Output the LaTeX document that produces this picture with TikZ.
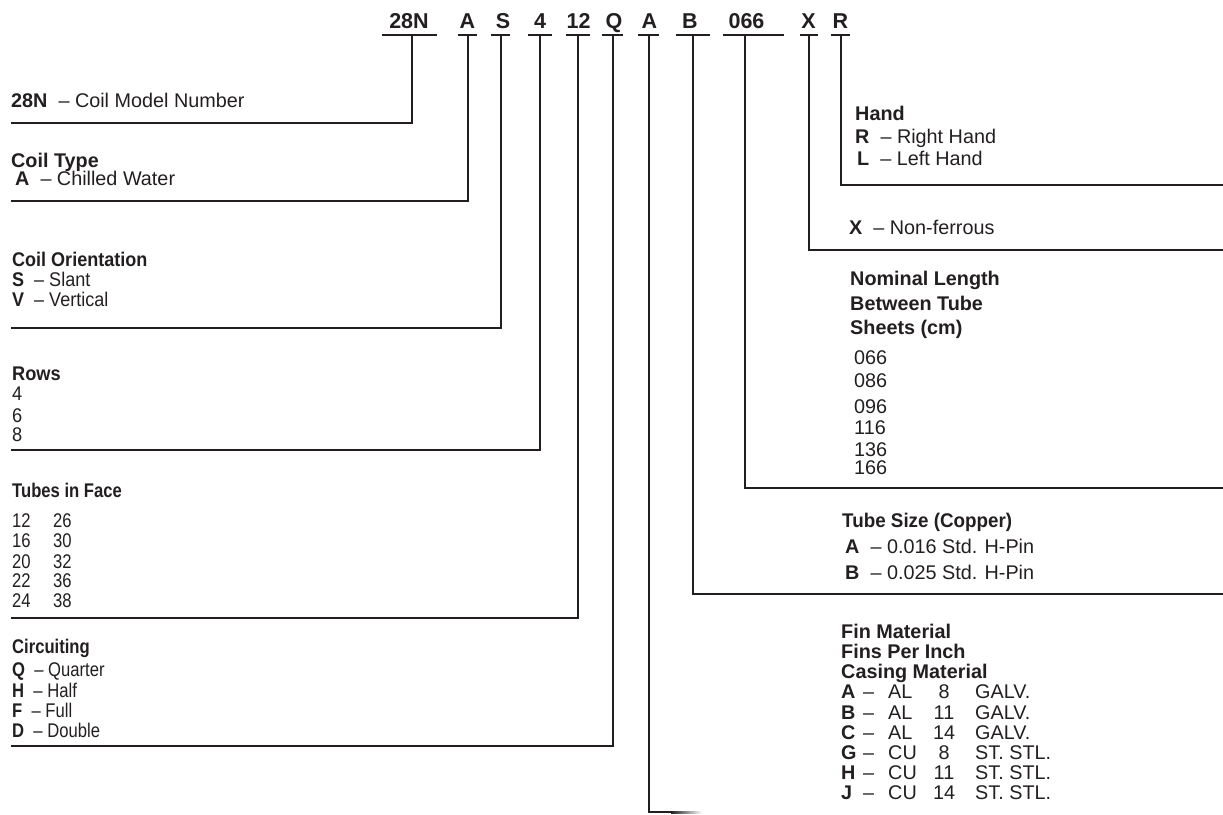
\documentclass[tikz,border=0pt]{standalone}
\usepackage{graphicx}
\usepackage{fontspec}
\setmainfont{Liberation Sans}
\usetikzlibrary{calc}
\definecolor{ink}{HTML}{231F20}
\newcommand{\cz}[2]{\scalebox{#1}[1]{#2}}
\tikzset{
  lead/.style={line width=2pt, draw=ink, line join=miter},
  txt/.style={anchor=base west, inner sep=0pt, text=ink, font=\fontsize{19.8}{20}\selectfont},
  numtxt/.style={anchor=base, inner sep=0pt, text=ink, font=\fontsize{19.8}{20}\selectfont},
  codetxt/.style={anchor=base, inner sep=0pt, text=ink, font=\fontsize{21.5}{22}\selectfont\bfseries},
}
\begin{document}
\begin{tikzpicture}[x=1pt,y=-1pt]
\useasboundingbox (0,0) rectangle (1223,814);

% ---- top code row ----
\foreach \nm/\t/\tx/\ua/\ub/\sx in {
  c28N/28N/409/382/437/412,
  cA/A/467.5/458/477/468,
  cS/S/503/491/510/501,
  cFour/4/540/528/552/540,
  cTwelve/12/578.5/566/590/578,
  cQ/Q/614/602/623/613,
  cAtwo/A/649.5/638/659/649,
  cB/B/690/676/710/693,
  cLen/066/746.5/723/784/745,
  cX/X/808.5/800/818/809,
  cR/R/840.5/831/850/841}{
  \node[codetxt] (\nm) at (\tx,28) {\t};
  \coordinate (\nm-ua) at (\ua,35);
  \coordinate (\nm-ub) at (\ub,35);
  \coordinate (\nm-s) at (\sx,35);
  \draw[lead] (\nm-ua) -- (\nm-ub);
}

% ---- end points of leaders ----
\coordinate (e28N) at (11,123);
\coordinate (eA) at (11,201);
\coordinate (eS) at (11,328);
\coordinate (eFour) at (11,450);
\coordinate (eTwelve) at (11,618);
\coordinate (eQ) at (11,746);
\coordinate (eAtwo) at (672,812);
\coordinate (eB) at (1223,594);
\coordinate (eLen) at (1223,488);
\coordinate (eX) at (1223,250);
\coordinate (eR) at (1223,185);

\draw[lead] (c28N-s) |- (e28N);
\draw[lead] (cA-s) |- (eA);
\draw[lead] (cS-s) |- (eS);
\draw[lead] (cFour-s) |- (eFour);
\draw[lead] (cTwelve-s) |- (eTwelve);
\draw[lead] (cQ-s) |- (eQ);
\draw[lead] (cAtwo-s) |- (eAtwo);
\shade[left color=ink, right color=white] (671,811) rectangle (702,813);
\draw[lead] (cB-s) |- (eB);
\draw[lead] (cLen-s) |- (eLen);
\draw[lead] (cX-s) |- (eX);
\draw[lead] (cR-s) |- (eR);

% ---- left blocks ----
\node[txt] (t28N) at (11,107) {\textbf{28N}\ \ – Coil Model Number};

\node[txt] (tTypeH) at (11,167) {\textbf{Coil Type}};
\node[txt] (tTypeA) at (15,185) {\textbf{A}\ \ – Chilled Water};

\node[txt] (tOriH) at (12,266) {\cz{0.91}{\textbf{Coil Orientation}}};
\node[txt] (tOriS) at (12,286) {\cz{0.91}{\textbf{S}\ \ – Slant}};
\node[txt] (tOriV) at (12,306) {\cz{0.91}{\textbf{V}\ \ – Vertical}};

\node[txt] (tRowH) at (12,380) {\cz{0.92}{\textbf{Rows}}};
\node[txt] (tRow4) at (12,400) {\cz{0.92}{4}};
\node[txt] (tRow6) at (12,422) {\cz{0.92}{6}};
\node[txt] (tRow8) at (12,441) {\cz{0.92}{8}};

\node[txt] (tTubH) at (12,497) {\cz{0.84}{\textbf{Tubes in Face}}};
\foreach \a/\b/\y [count=\i] in {12/26/527,16/30/547,20/32/568,22/36/587,24/38/607}{
  \node[txt] (tTubL\i) at (12,\y) {\cz{0.84}{\a}};
  \node[txt] (tTubR\i) at (53,\y) {\cz{0.84}{\b}};
}

\node[txt] (tCirH) at (12,653) {\cz{0.84}{\textbf{Circuiting}}};
\node[txt] (tCirQ) at (12,676) {\cz{0.84}{\textbf{Q}\ \ – Quarter}};
\node[txt] (tCirH2) at (12,697) {\cz{0.84}{\textbf{H}\ \ – Half}};
\node[txt] (tCirF) at (12,717) {\cz{0.84}{\textbf{F}\ \ – Full}};
\node[txt] (tCirD) at (12,737) {\cz{0.84}{\textbf{D}\ \ – Double}};

% ---- right blocks ----
\node[txt] (tHandH) at (855,120) {\textbf{Hand}};
\node[txt] (tHandR) at (855,143) {\textbf{R}\ \ – Right Hand};
\node[txt] (tHandL) at (857,165) {\textbf{L}\ \ – Left Hand};

\node[txt] (tNonF) at (849,234) {\textbf{X}\ \ – Non-ferrous};

\node[txt] (tLenH1) at (850,285) {\textbf{Nominal Length}};
\node[txt] (tLenH2) at (850,310) {\textbf{Between Tube}};
\node[txt] (tLenH3) at (850,334) {\textbf{Sheets (cm)}};
\foreach \v/\y [count=\i] in {066/364,086/387,096/413,116/434,136/456,166/474}{
  \node[txt] (tLen\i) at (854,\y) {\v};
}

\node[txt] (tTubeH) at (842,527) {\cz{0.95}{\textbf{Tube Size (Copper)}}};
\node[txt] (tTubeA) at (845,553) {\textbf{A}\ \ – 0.016 Std. H-Pin};
\node[txt] (tTubeB) at (845,579) {\textbf{B}\ \ – 0.025 Std. H-Pin};

\node[txt] (tFinH1) at (841,638) {\textbf{Fin Material}};
\node[txt] (tFinH2) at (841,658) {\textbf{Fins Per Inch}};
\node[txt] (tFinH3) at (841,678) {\textbf{Casing Material}};
\foreach \l/\m/\n/\c/\y [count=\i] in {
  A/AL/8/GALV./698, B/AL/11/GALV./719, C/AL/14/GALV./739,
  G/CU/8/ST. STL./759, H/CU/11/ST. STL./779, J/CU/14/ST. STL./799}{
  \node[txt] (tFinL\i) at (841,\y) {\textbf{\l}};
  \node[txt] (tFinD\i) at (863,\y) {–};
  \node[txt] (tFinM\i) at (888,\y) {\m};
  \node[numtxt] (tFinN\i) at (944,\y) {\n};
  \node[txt] (tFinC\i) at (975,\y) {\c};
}
\end{tikzpicture}
\end{document}
